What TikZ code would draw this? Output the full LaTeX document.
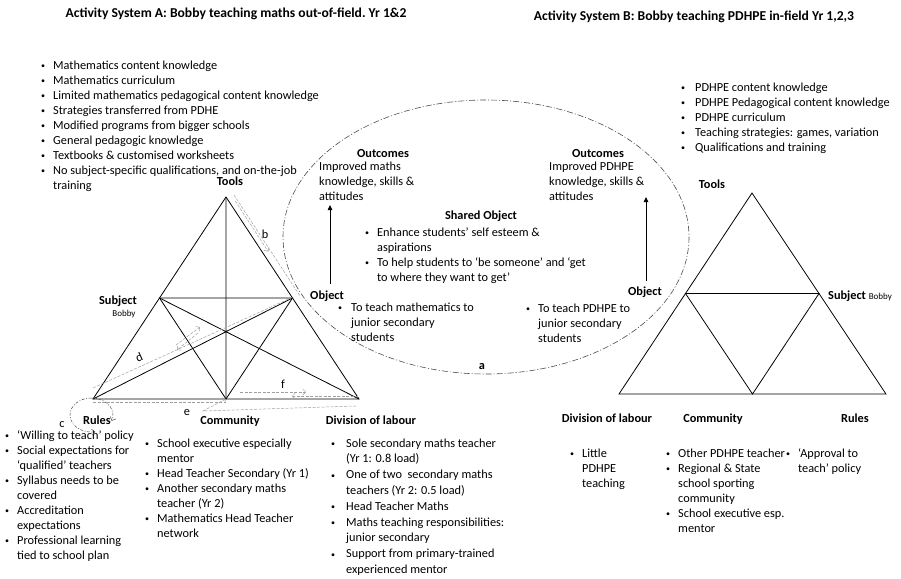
\documentclass[tikz,border=0pt]{standalone}
\usepackage{fontspec}
\setmainfont{Carlito}
\usetikzlibrary{arrows.meta,calc}

\newcommand{\fs}{\fontsize{12.3}{15}\selectfont}
\newcommand{\bu}{{\fontsize{8}{8}\selectfont\raisebox{0.6pt}{\textbullet}}}
\newcommand{\txtlines}[1]{\begin{tabular}[t]{@{}l@{}}#1\end{tabular}}
\newcommand{\bullist}[2][13pt]{\begin{tabular}[t]{@{}p{#1}@{}l@{}}#2\end{tabular}}

\tikzset{
  tri/.style={line width=0.8pt},
  lbl/.style={font=\fs\bfseries, inner sep=0pt, anchor=base},
  ttl/.style={font=\fontsize{13.6}{16}\selectfont\bfseries, inner sep=0pt, anchor=base},
  txt/.style={font=\fs, inner sep=0pt, anchor=base west},
  rel/.style={gray!75, line width=0.5pt, dash pattern=on 3pt off 1.5pt},
  arr/.style={line width=0.8pt, -{Triangle[length=5pt,width=4.5pt]}},
  share/.style={gray!60!black, line width=0.6pt, dash pattern=on 6pt off 2pt on 1pt off 2pt},
}

\begin{document}
\begin{tikzpicture}[x=1pt,y=-1pt]
\useasboundingbox (0,0) rectangle (901,578);

% titles
\node[ttl] (titA) at (236,18) {Activity System A: Bobby teaching maths out-of-field.\ Yr 1\&2};
\node[ttl] (titB) at (694,21) {Activity System B: Bobby teaching PDHPE in-field Yr 1,2,3};

% shared object space
\draw[share] (486,237) ellipse [x radius=203, y radius=137];

% triangle A
\coordinate (aT) at (226,197);
\coordinate (aL) at (93,399);
\coordinate (aR) at (359,399);
\coordinate (aML) at ($(aT)!.5!(aL)$);
\coordinate (aMR) at ($(aT)!.5!(aR)$);
\coordinate (aMB) at ($(aL)!.5!(aR)$);
\draw[tri] (aT) -- (aL) -- (aR) -- cycle;
\draw[tri] (aML) -- (aMR) -- (aMB) -- cycle;
\draw[tri] (aT) -- (aMB) (aL) -- (aMR) (aR) -- (aML);

% triangle B
\coordinate (bT) at (752,193);
\coordinate (bL) at (619,394);
\coordinate (bR) at (886,394);
\coordinate (bML) at ($(bT)!.5!(bL)$);
\coordinate (bMR) at ($(bT)!.5!(bR)$);
\coordinate (bMB) at ($(bL)!.5!(bR)$);
\draw[tri] (bT) -- (bL) -- (bR) -- cycle;
\draw[tri] (bML) -- (bMR) -- (bMB) -- cycle;

% tools
\node[txt] (toolsA) at (41,69) {\bullist[12pt]{%
\bu & Mathematics content knowledge\\
\bu & Mathematics curriculum\\
\bu & Limited mathematics pedagogical content knowledge\\
\bu & Strategies transferred from PDHE\\
\bu & Modified programs from bigger schools\\
\bu & General pedagogic knowledge\\
\bu & Textbooks \& customised worksheets\\
\bu & No subject-specific qualifications, and on-the-job\\
 & training}};
\node[txt] (toolsB) at (681,91) {\bullist[14pt]{%
\bu & PDHPE content knowledge\\
\bu & PDHPE Pedagogical content knowledge\\
\bu & PDHPE curriculum\\
\bu & Teaching strategies: games, variation\\
\bu & Qualifications and training}};
\node[lbl] (toolA) at (230,185) {Tools};
\node[lbl] (toolB) at (712,188) {Tools};

% subjects
\node[lbl] (subjA) at (118,304) {Subject};
\node[inner sep=0pt, anchor=base, font=\fontsize{9}{11}\selectfont] (bobA) at (124,316) {Bobby};
\node[txt, font=\fs\bfseries] (subjB) at (828,299) {Subject {\mdseries\fontsize{9}{11}\selectfont Bobby}};

% objects and outcomes
\node[lbl, anchor=base west] (objA) at (310,299) {Object};
\node[txt] (objAl) at (338,311) {\bullist{%
\bu & To teach mathematics to\\
 & junior secondary\\
 & students}};
\node[lbl] (objB) at (645,295) {Object};
\node[txt] (objBl) at (526,312) {\bullist[12pt]{%
\bu & To teach PDHPE to\\
 & junior secondary\\
 & students}};
\node[lbl] (outA) at (383,157) {Outcomes};
\node[txt] (outAl) at (319,170) {\txtlines{Improved maths\\knowledge, skills \&\\attitudes}};
\node[lbl] (outB) at (598,157) {Outcomes};
\node[txt] (outBl) at (549,170) {\txtlines{Improved PDHPE\\knowledge, skills \&\\attitudes}};
\node[lbl] (shared) at (481,219) {Shared Object};
\node[txt] (sharedl) at (365,236) {\bullist[12pt]{%
\bu & Enhance students’ self esteem \&\\
 & aspirations\\
\bu & To help students to ‘be someone’ and ‘get\\
 & to where they want to get’}};
\node[lbl] (la) at (482,369) {a};

\coordinate (arA0) at (330,284);
\coordinate (arA1) at (330,205);
\coordinate (arB0) at (646,281);
\coordinate (arB1) at (646,197);
\draw[arr] (arA0) -- (arA1);
\draw[arr] (arB0) -- (arB1);

% bottom labels A
\node[lbl] (rulesA) at (97,424) {Rules};
\node[lbl] (commA) at (230,424) {Community};
\node[lbl] (divA) at (371,424) {Division of labour};
\node[txt] (rulesAl) at (5,439) {\bullist[12pt]{%
\bu & ‘Willing to teach’ policy\\
\bu & Social expectations for\\
 & ‘qualified’ teachers\\
\bu & Syllabus needs to be\\
 & covered\\
\bu & Accreditation\\
 & expectations\\
\bu & Professional learning\\
 & tied to school plan}};
\node[txt] (commAl) at (145,447) {\bullist[12pt]{%
\bu & School executive especially\\
 & mentor\\
\bu & Head Teacher Secondary (Yr 1)\\
\bu & Another secondary maths\\
 & teacher (Yr 2)\\
\bu & Mathematics Head Teacher\\
 & network}};
\node[txt, font=\fontsize{12.3}{15.8}\selectfont] (divAl) at (331,447) {\bullist[15pt]{%
\bu & Sole secondary maths teacher\\
 & (Yr 1: 0.8 load)\\
\bu & One of two \ secondary maths\\
 & teachers (Yr 2: 0.5 load)\\
\bu & Head Teacher Maths\\
\bu & Maths teaching responsibilities:\\
 & junior secondary\\
\bu & Support from primary-trained\\
 & experienced mentor}};

% bottom labels B
\node[lbl] (divB) at (607,422) {Division of labour};
\node[lbl] (commB) at (713,422) {Community};
\node[lbl] (rulesB) at (855,422) {Rules};
\node[txt] (divBl) at (570,457) {\bullist[12pt]{%
\bu & Little\\
 & PDHPE\\
 & teaching}};
\node[txt] (commBl) at (666,457) {\bullist[12pt]{%
\bu & Other PDHPE teacher\\
\bu & Regional \& State\\
 & school sporting\\
 & community\\
\bu & School executive esp.\\
 & mentor}};
\node[txt] (rulesBl) at (786,457) {\bullist[12pt]{%
\bu & ‘Approval to\\
 & teach’ policy}};

% contradictions
\coordinate (b1) at (234,195);
\coordinate (b2) at (300,296);
\draw[rel] (b1) -- (b2);
\draw[rel, -{Straight Barb[length=3pt]}] ($(b1)!.05!(b2)+(-2,1)$) -- ($(b1)!.55!(b2)+(-2,1)$);
\node[font=\fs, inner sep=0pt, anchor=base] (lb) at (265,238) {b};

\coordinate (d1) at (93,388);
\coordinate (d2) at (293,297);
\draw[rel] (d1) -- (d2);
\draw[rel, -{Straight Barb[length=3pt]}] (198,333) -- (177,350);
\draw[rel, -{Straight Barb[length=3pt]}] (176,345) -- (200,327);
\node[font=\fs, inner sep=0pt, rotate=25] (ld) at (139,357) {d};

\coordinate (f1) at (240,392);
\coordinate (f2) at (306,392);
\coordinate (f3) at (358,396);
\coordinate (f4) at (292,396);
\draw[rel, -{Straight Barb[length=3pt]}] (f1) -- (f2);
\draw[rel, -{Straight Barb[length=3pt]}] (f3) -- (f4);
\node[font=\fs, inner sep=0pt, anchor=base] (lf) at (283,388) {f};

\coordinate (e1) at (203,411);
\coordinate (e2) at (356,406);
\draw[rel] ($(aL)+(0,3)$) -- ($(aMB)+(0,3)$);
\draw[rel, {Straight Barb[length=3pt]}-] (aMB) -- (e1) -- (e2);
\node[font=\fs, inner sep=0pt, anchor=base] (le) at (187,415) {e};

\coordinate (cc) at (91.5,415);
\draw[rel, black!70, dash pattern=on 3pt off 1.5pt on 1pt off 1.5pt, -{Straight Barb[length=3pt]}]
  ($(cc)+(-90:21.5 and 17)$) arc[start angle=-90, end angle=-280, x radius=21.5, y radius=17];
\draw[rel, black!70, dash pattern=on 3pt off 1.5pt on 1pt off 1.5pt, -{Straight Barb[length=3pt]}]
  ($(cc)+(-90:21.5 and 17)$) arc[start angle=-90, end angle=20, x radius=21.5, y radius=17];
\node[font=\fs, inner sep=0pt, anchor=base] (lc) at (62,427) {c};

\end{tikzpicture}
\end{document}
